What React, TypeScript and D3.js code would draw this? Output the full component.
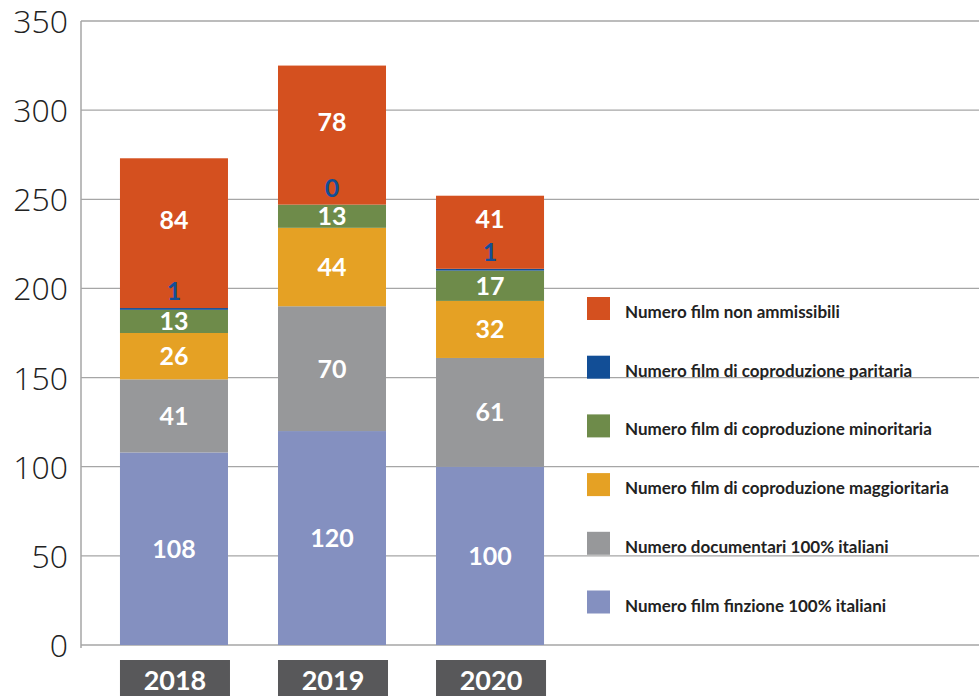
import * as d3 from 'd3'

const years = ['2018', '2019', '2020']
const series = [
  'Numero film finzione 100% italiani',
  'Numero documentari 100% italiani',
  'Numero film di coproduzione maggioritaria',
  'Numero film di coproduzione minoritaria',
  'Numero film di coproduzione paritaria',
  'Numero film non ammissibili',
]
const finzione = [108, 120, 100]
const documentari = [41, 70, 61]
const maggioritaria = [26, 44, 32]
const minoritaria = [13, 13, 17]
const paritaria = [1, 0, 1]
const nonAmmissibili = [84, 78, 41]
const colors = ['#8490c0', '#97989a', '#e5a124', '#6e8b4a', '#124e96', '#d4501f']
const yTicks = [0, 50, 100, 150, 200, 250, 300, 350]

const W = 979
const H = 696

export default function App() {
  const values = [finzione, documentari, maggioritaria, minoritaria, paritaria, nonAmmissibili]
  const rows = years.map((y, i) => {
    const r: any = {year: y}
    series.forEach((s, k) => (r[s] = values[k][i]))
    return r
  })
  const stacked = d3.stack().keys(series)(rows)

  // plot frame
  const left = 81
  const y = d3.scaleLinear().domain([0, 350]).range([645, 21])
  const x = d3.scaleBand().domain(years).range([95, 569]).paddingInner(0.3165).paddingOuter(0.158)

  // legend, top entry first
  const legendItems = series.map((s, k) => ({name: s, color: colors[k]})).reverse()

  // label centre for each segment; the thin blue one sits just above its bar,
  // the orange one is centred in the space left above that label
  const labelY = (k: number, d: any) => {
    if (k === 4) return y(d[1]) - 17
    if (k === 5) return (y(d[1]) + y(d[0]) - 27) / 2
    return (y(d[0]) + y(d[1])) / 2
  }

  return (
    <div style={{position: 'absolute', left: 0, top: 0}}>
      <svg width={W} height={H} style={{display: 'block', background: '#fff'}}>
        {yTicks.map(t => (
          <g key={t}>
            <line x1={left} x2={W} y1={y(t)} y2={y(t)} stroke="#a6a6a6" strokeWidth={1.3} />
            <text x={68} y={y(t) + 12} textAnchor="end" fontFamily="'Open Sans', sans-serif"
              fontWeight={300} fontSize={32} fill="#222">{t}</text>
          </g>
        ))}
        <line x1={left} x2={left} y1={y(350)} y2={y(0) + 3} stroke="#a6a6a6" strokeWidth={1.5} />

        {stacked.map((layer, k) => (
          <g key={layer.key} fill={colors[k]}>
            {layer.map((d, i) => (
              <rect key={i} x={x(years[i])} width={x.bandwidth()}
                y={y(d[1])} height={Math.max(0, y(d[0]) - y(d[1]))} />
            ))}
          </g>
        ))}

        {stacked.map((layer, k) => layer.map((d, i) => {
          const v = values[k][i]
          const isBlue = k === 4
          return (
            <text key={layer.key + i} x={(x(years[i]) as number) + x.bandwidth() / 2} y={labelY(k, d) + 9}
              textAnchor="middle" fontFamily="Lato, 'Open Sans', sans-serif" fontWeight="bold"
              fontSize={25} fill={isBlue ? '#124e96' : '#fff'}>{v}</text>
          )
        }))}

        {years.map(yr => (
          <g key={yr}>
            <rect x={x(yr)} y={660} width={x.bandwidth() + 2} height={H - 660} fill="#58585a" />
            <text x={(x(yr) as number) + x.bandwidth() / 2 + 1} y={690} textAnchor="middle"
              fontFamily="Lato, 'Open Sans', sans-serif" fontWeight="bold" fontSize={27} fill="#fff">{yr}</text>
          </g>
        ))}

        {legendItems.map((it, j) => {
          const ly = 297 + j * 58.7
          return (
            <g key={it.name}>
              <rect x={587} y={ly} width={23} height={23} fill={it.color} />
              <text x={625} y={ly + 21} fontFamily="Lato, 'Open Sans', sans-serif" fontWeight="bold"
                fontSize={17} fill="#222">{it.name}</text>
            </g>
          )
        })}
      </svg>
    </div>
  )
}
